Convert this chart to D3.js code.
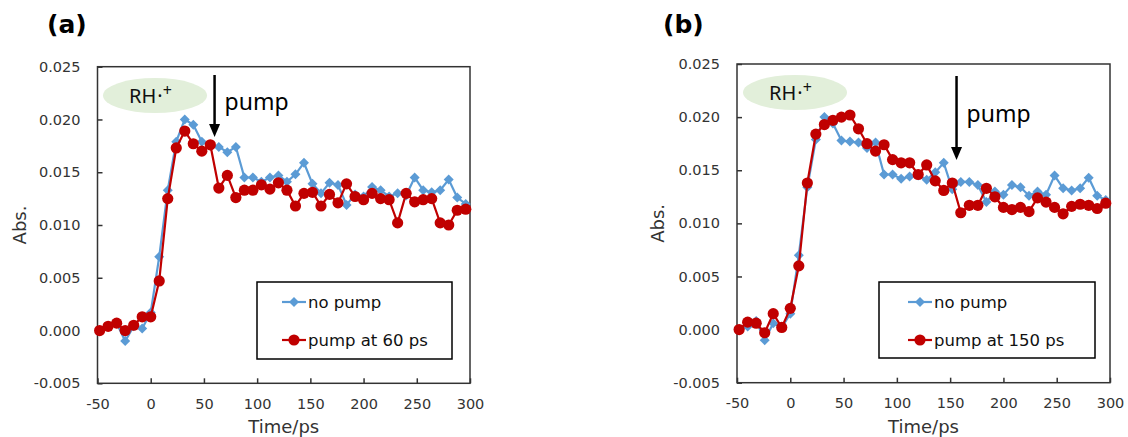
<!DOCTYPE html>
<html>
<head>
<meta charset="utf-8">
<script src="https://cdn.jsdelivr.net/npm/d3@7"></script>
<style>
  body { margin: 0; background: #fff; }
  svg text { font-family: "DejaVu Sans", Verdana, sans-serif; }
</style>
</head>
<body>
<div id="viz"></div>
<script>
// time axis (ps), shared by both panels
const times = [-48, -40, -32, -24, -16, -8, 0, 8, 16, 24, 32, 40, 48, 56, 64, 72, 80, 88, 96, 104,
  112, 120, 128, 136, 144, 152, 160, 168, 176, 184, 192, 200, 208, 216, 224, 232, 240, 248, 256, 264,
  272, 280, 288, 296];

// panel (a)
const noPumpA = [0.0000, 0.0004, 0.0007, -0.0010, 0.0004, 0.0002, 0.0017, 0.0070, 0.0133, 0.0179,
  0.0200, 0.0195, 0.0179, 0.0175, 0.0174, 0.0169, 0.0174, 0.0145, 0.0145, 0.0141,
  0.0145, 0.0147, 0.0141, 0.0148, 0.0159, 0.0139, 0.0130, 0.0140, 0.0138, 0.0119,
  0.0129, 0.0127, 0.0136, 0.0133, 0.0127, 0.0130, 0.0128, 0.0145, 0.0133, 0.0131,
  0.0133, 0.0143, 0.0126, 0.0120];
const pump60 = [0.0000, 0.0004, 0.0007, 0.0000, 0.0005, 0.0013, 0.0013, 0.0047, 0.0125, 0.0173,
  0.0189, 0.0177, 0.0170, 0.0176, 0.0135, 0.0147, 0.0126, 0.0133, 0.0133, 0.0138,
  0.0134, 0.0140, 0.0133, 0.0118, 0.0130, 0.0131, 0.0118, 0.0129, 0.0121, 0.0139,
  0.0127, 0.0124, 0.0130, 0.0125, 0.0124, 0.0102, 0.0130, 0.0122, 0.0124, 0.0125,
  0.0102, 0.0100, 0.0114, 0.0115];

// panel (b)
const noPumpB = [0.0000, 0.0003, 0.0008, -0.0010, 0.0006, 0.0002, 0.0015, 0.0070, 0.0134, 0.0179,
  0.0200, 0.0194, 0.0178, 0.0177, 0.0176, 0.0171, 0.0176, 0.0146, 0.0146, 0.0142,
  0.0144, 0.0145, 0.0141, 0.0148, 0.0157, 0.0132, 0.0139, 0.0139, 0.0136, 0.0120,
  0.0130, 0.0127, 0.0136, 0.0134, 0.0126, 0.0130, 0.0127, 0.0145, 0.0133, 0.0131,
  0.0133, 0.0143, 0.0126, 0.0122];
const pump150 = [0.0000, 0.0007, 0.0006, -0.0003, 0.0015, 0.0002, 0.0020, 0.0060, 0.0138, 0.0184,
  0.0193, 0.0197, 0.0200, 0.0202, 0.0189, 0.0175, 0.0168, 0.0174, 0.0160, 0.0157,
  0.0157, 0.0146, 0.0155, 0.0140, 0.0131, 0.0138, 0.0110, 0.0117, 0.0117, 0.0133,
  0.0125, 0.0115, 0.0113, 0.0115, 0.0111, 0.0124, 0.0120, 0.0115, 0.0109, 0.0116,
  0.0118, 0.0117, 0.0114, 0.0119];

const xTicks = [-50, 0, 50, 100, 150, 200, 250, 300];
const yTicks = [-0.005, 0.000, 0.005, 0.010, 0.015, 0.020, 0.025];

const BLUE = "#5b9bd5", RED = "#c00000", INK = "#333";

const svg = d3.select("#viz").append("svg")
  .attr("width", 1128)
  .attr("height", 437);

const panels = [
  { tag: "(a)", tagX: 47, left: 97.5, right: 470, top: 66.7, bottom: 383.3,
    blue: noPumpA, red: pump60, redName: "pump at 60 ps", arrowAt: 60,
    arrowTop: 75, arrowTip: 137, pumpBase: 110,
    ell: [155, 95.5], legend: [257, 282, 195, 77], absX: 20 },
  { tag: "(b)", tagX: 663, left: 737, right: 1110, top: 64, bottom: 382.7,
    blue: noPumpB, red: pump150, redName: "pump at 150 ps", arrowAt: 156,
    arrowTop: 76, arrowTip: 160, pumpBase: 122,
    ell: [795, 92.5], legend: [879, 282, 216, 76], absX: 658 }
];

const diamond = r => `M0,${-r}L${r},0L0,${r}L${-r},0Z`;

panels.forEach(p => {
  const x = d3.scaleLinear().domain([-50, 300]).range([p.left, p.right]);
  const y = d3.scaleLinear().domain([-0.005, 0.025]).range([p.bottom, p.top]);
  const g = svg.append("g");

  // panel letter
  g.append("text")
    .attr("x", p.tagX).attr("y", 33)
    .style("font-size", "25px").style("font-weight", "bold")
    .attr("fill", "#000")
    .text(p.tag);

  // axes
  const xAxis = g.append("g")
    .attr("transform", `translate(0,${p.bottom})`)
    .call(d3.axisBottom(x).tickValues(xTicks).tickSizeInner(-5).tickSizeOuter(0).tickPadding(15)
      .tickFormat(d => d));
  const yAxis = g.append("g")
    .attr("transform", `translate(${p.left},0)`)
    .call(d3.axisLeft(y).tickValues(yTicks).tickSizeInner(-5).tickSizeOuter(0).tickPadding(17)
      .tickFormat(d => d.toFixed(3)));
  [xAxis, yAxis].forEach(a => {
    a.select(".domain").remove();
    a.selectAll("line").attr("stroke", INK).attr("stroke-width", 1.5);
    a.selectAll("text").attr("fill", INK).style("font-size", "14.5px");
  });

  // frame
  g.append("rect")
    .attr("x", p.left).attr("y", p.top)
    .attr("width", p.right - p.left).attr("height", p.bottom - p.top)
    .attr("fill", "none").attr("stroke", INK).attr("stroke-width", 1.5);

  // axis titles
  g.append("text")
    .attr("transform", `translate(${p.absX + 6},${(p.top + p.bottom) / 2}) rotate(-90)`)
    .attr("text-anchor", "middle")
    .attr("fill", INK).style("font-size", "18px")
    .text("Abs.");
  g.append("text")
    .attr("x", (p.left + p.right) / 2).attr("y", 433)
    .attr("text-anchor", "middle")
    .attr("fill", INK).style("font-size", "18px")
    .text("Time/ps");

  // RH.+ label
  g.append("ellipse")
    .attr("cx", p.ell[0]).attr("cy", p.ell[1])
    .attr("rx", 52).attr("ry", 17.5)
    .attr("fill", "#e2efda");
  const rh = g.append("text")
    .attr("x", p.ell[0] - 26).attr("y", p.ell[1] + 7.5)
    .style("font-family", "'Noto Sans', sans-serif")
    .style("font-size", "20px").attr("fill", "#111");
  rh.append("tspan").text("RH");
  rh.append("tspan").attr("dx", 1).text("·");
  rh.append("tspan").attr("dy", -7).style("font-size", "16px").text("+");

  // pump arrow
  const ax = x(p.arrowAt);
  g.append("line")
    .attr("x1", ax).attr("x2", ax)
    .attr("y1", p.arrowTop).attr("y2", p.arrowTip - 10)
    .attr("stroke", "#000").attr("stroke-width", 2.5);
  g.append("path")
    .attr("d", `M${ax - 5.5},${p.arrowTip - 13}L${ax + 5.5},${p.arrowTip - 13}L${ax},${p.arrowTip}Z`)
    .attr("fill", "#000");
  g.append("text")
    .attr("x", ax + 10).attr("y", p.pumpBase)
    .style("font-family", "'Noto Sans', sans-serif")
    .style("font-size", "23px").attr("fill", "#000")
    .text("pump");

  // series
  const line = d3.line().x((d, i) => x(times[i])).y(d => y(d));
  g.append("path").datum(p.blue)
    .attr("d", line).attr("fill", "none")
    .attr("stroke", BLUE).attr("stroke-width", 2.2);
  g.append("g").selectAll("path").data(p.blue).join("path")
    .attr("transform", (d, i) => `translate(${x(times[i])},${y(d)})`)
    .attr("d", diamond(5)).attr("fill", BLUE);

  g.append("path").datum(p.red)
    .attr("d", line).attr("fill", "none")
    .attr("stroke", RED).attr("stroke-width", 2.2);
  g.append("g").selectAll("circle").data(p.red).join("circle")
    .attr("cx", (d, i) => x(times[i])).attr("cy", d => y(d))
    .attr("r", 5.6).attr("fill", RED);

  // legend
  const [lx, ly, lw, lh] = p.legend;
  g.append("rect")
    .attr("x", lx).attr("y", ly).attr("width", lw).attr("height", lh)
    .attr("fill", "#fff").attr("stroke", "#000").attr("stroke-width", 1.5);
  const items = [
    { name: "no pump", color: BLUE, shape: "diamond", dy: 20 },
    { name: p.redName, color: RED, shape: "circle", dy: 58 }
  ];
  items.forEach(it => {
    const iy = ly + it.dy;
    const sx = lx + (lw > 200 ? 29 : 25);
    g.append("line")
      .attr("x1", sx).attr("x2", sx + 24).attr("y1", iy).attr("y2", iy)
      .attr("stroke", it.color).attr("stroke-width", 2.2);
    if (it.shape === "diamond") {
      g.append("path").attr("transform", `translate(${sx + 12},${iy})`)
        .attr("d", diamond(5)).attr("fill", it.color);
    } else {
      g.append("circle").attr("cx", sx + 12).attr("cy", iy).attr("r", 5.6).attr("fill", it.color);
    }
    g.append("text")
      .attr("x", sx + 26).attr("y", iy + 6)
      .attr("fill", "#111").style("font-size", "16.5px")
      .text(it.name);
  });
});
</script>
</body>
</html>
